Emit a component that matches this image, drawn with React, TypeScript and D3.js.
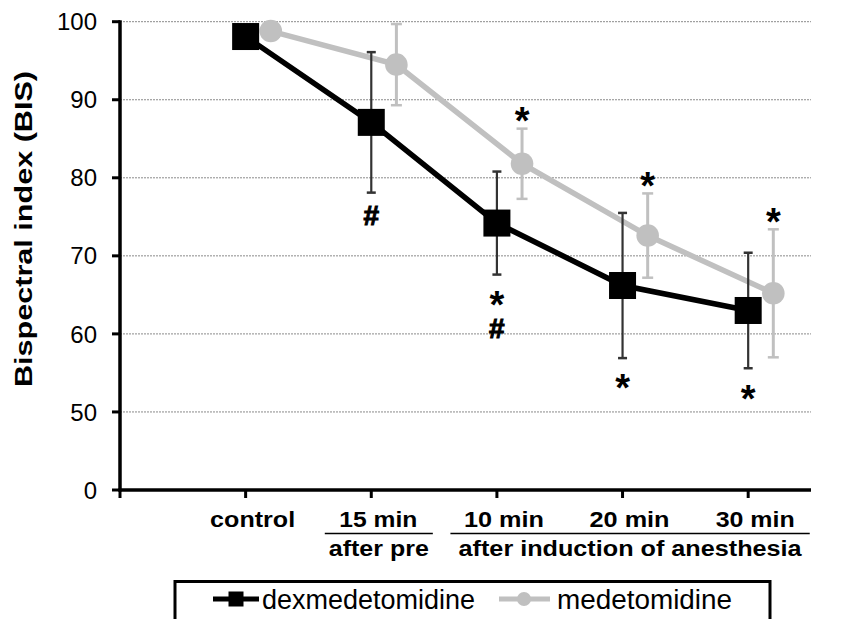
// BisChart.tsx
import * as d3 from "d3";
import { useEffect, useRef } from "react";

const width = 863;
const height = 619;

// values
const categories = ["control", "15 min", "10 min", "20 min", "30 min"];
const dexMean = [98.1, 87.1, 74.2, 66.2, 63.0];
const dexSD = [1.2, 9.0, 6.6, 9.3, 7.4];
const medMean = [98.8, 94.5, 81.8, 72.6, 65.2];
const medSD = [0.8, 5.2, 4.5, 5.4, 8.2];
const dexMarks = ["", "#", "*#", "*", "*"];
const medMarks = ["", "", "*", "*", "*"];
const yTickValues = [40, 50, 60, 70, 80, 90, 100];
const yTickLabels = ["0", "50", "60", "70", "80", "90", "100"];
const groups = [
  { label: "after pre", first: 1, last: 1 },
  { label: "after induction of anesthesia", first: 2, last: 4 },
];
const seriesNames = ["dexmedetomidine", "medetomidine"];

const FONT = "'Liberation Sans', Arial, Helvetica, sans-serif";
const BLACK = "#000";
const GREY = "#c0c0c0";

export default function App() {
  const svgRef = useRef<SVGSVGElement>(null);

  useEffect(() => {
    const svg = d3.select(svgRef.current);
    svg.selectAll("*").remove();

    const x = d3.scaleLinear().domain([0, 5.5]).range([120, 811]);
    const step = x(1) - x(0);
    const y = d3.scaleLinear().domain([40, 100]).range([490, 21.7]);
    const medShift = 0.2;

    // grid lines (dotted)
    svg.append("g")
      .selectAll("line")
      .data(yTickValues.filter(v => v > 40))
      .enter()
      .append("line")
      .attr("x1", x(0))
      .attr("x2", x(5.5))
      .attr("y1", d => y(d))
      .attr("y2", d => y(d))
      .attr("stroke", "#8a8a8a")
      .attr("stroke-width", 1)
      .attr("stroke-dasharray", "2,1");

    // y axis
    const yAxis = svg.append("g");
    yAxis.append("line")
      .attr("x1", x(0)).attr("x2", x(0))
      .attr("y1", y(100) - 1.5).attr("y2", y(40) + 1.5)
      .attr("stroke", BLACK).attr("stroke-width", 3.5);
    yAxis.selectAll(".tick")
      .data(yTickValues)
      .enter()
      .append("line")
      .attr("x1", x(0) - 8).attr("x2", x(0))
      .attr("y1", d => y(d)).attr("y2", d => y(d))
      .attr("stroke", BLACK).attr("stroke-width", 3);
    yAxis.selectAll("text")
      .data(yTickValues)
      .enter()
      .append("text")
      .attr("x", 97)
      .attr("y", d => y(d) + 8.6)
      .attr("text-anchor", "end")
      .style("font-family", FONT)
      .style("font-size", "24px")
      .text((d, i) => yTickLabels[i]);

    svg.append("text")
      .attr("transform", `translate(32, 229) rotate(-90)`)
      .attr("text-anchor", "middle")
      .attr("textLength", 316)
      .attr("lengthAdjust", "spacingAndGlyphs")
      .style("font-family", FONT)
      .style("font-size", "23px")
      .style("font-weight", "bold")
      .text("Bispectral index (BIS)");

    // x axis
    const xAxis = svg.append("g");
    xAxis.append("line")
      .attr("x1", x(0) - 1.5).attr("x2", x(5.5))
      .attr("y1", y(40)).attr("y2", y(40))
      .attr("stroke", BLACK).attr("stroke-width", 3.5);
    xAxis.selectAll(".tick")
      .data(d3.range(0, 6))
      .enter()
      .append("line")
      .attr("x1", d => x(d)).attr("x2", d => x(d))
      .attr("y1", y(40)).attr("y2", y(40) + 8)
      .attr("stroke", BLACK).attr("stroke-width", 3);

    const labelWidths = [85, 78, 80, 80, 79];
    xAxis.selectAll(".cat")
      .data(categories)
      .enter()
      .append("text")
      .attr("x", (d, i) => x(i + 1) + 7)
      .attr("y", 527)
      .attr("text-anchor", "middle")
      .attr("textLength", (d, i) => labelWidths[i])
      .attr("lengthAdjust", "spacingAndGlyphs")
      .style("font-family", FONT)
      .style("font-size", "22px")
      .style("font-weight", "bold")
      .text(d => d);

    const groupWidths = [100, 343];
    groups.forEach((g, gi) => {
      const x1 = x(g.first + 1) - 0.37 * step;
      const x2 = x(g.last + 1) + 0.49 * step;
      xAxis.append("line")
        .attr("x1", x1).attr("x2", x2)
        .attr("y1", 533.5).attr("y2", 533.5)
        .attr("stroke", BLACK).attr("stroke-width", 1.5);
      xAxis.append("text")
        .attr("x", (x1 + x2) / 2)
        .attr("y", 556)
        .attr("text-anchor", "middle")
        .attr("textLength", groupWidths[gi])
        .attr("lengthAdjust", "spacingAndGlyphs")
        .style("font-family", FONT)
        .style("font-size", "22px")
        .style("font-weight", "bold")
        .text(g.label);
    });

    // series
    const drawSeries = (mean: number[], sd: number[], shift: number, color: string, barColor: string, barWidth: number, cap: number) => {
      const g = svg.append("g");
      const line = d3.line<number>()
        .x((d, i) => x(i + 1 + shift))
        .y(d => y(d));
      g.append("path")
        .datum(mean)
        .attr("d", line)
        .attr("fill", "none")
        .attr("stroke", color)
        .attr("stroke-width", 5.5);
      const bars = g.selectAll(".err")
        .data(mean)
        .enter()
        .append("g");
      bars.append("line")
        .attr("x1", (d, i) => x(i + 1 + shift)).attr("x2", (d, i) => x(i + 1 + shift))
        .attr("y1", (d, i) => y(d + sd[i])).attr("y2", (d, i) => y(d - sd[i]))
        .attr("stroke", barColor).attr("stroke-width", barWidth);
      [1, -1].forEach(sign => {
        bars.append("line")
          .attr("x1", (d, i) => x(i + 1 + shift) - cap / 2)
          .attr("x2", (d, i) => x(i + 1 + shift) + cap / 2)
          .attr("y1", (d, i) => y(d + sign * sd[i]))
          .attr("y2", (d, i) => y(d + sign * sd[i]))
          .attr("stroke", barColor).attr("stroke-width", 2.5);
      });
      return g;
    };

    const medG = drawSeries(medMean, medSD, medShift, GREY, GREY, 3, 11);
    medG.selectAll("circle")
      .data(medMean)
      .enter()
      .append("circle")
      .attr("cx", (d, i) => x(i + 1 + medShift))
      .attr("cy", d => y(d))
      .attr("r", 11.3)
      .attr("fill", GREY);

    const dexG = drawSeries(dexMean, dexSD, 0, BLACK, "#333", 2.2, 9);
    dexG.selectAll("rect")
      .data(dexMean)
      .enter()
      .append("rect")
      .attr("x", (d, i) => x(i + 1) - 13.5)
      .attr("y", d => y(d) - 13.5)
      .attr("width", 27)
      .attr("height", 27)
      .attr("fill", BLACK);

    // significance marks: one text per point, stacked glyphs as tspans
    const glyphStyle = (ch: string) => ch === "*"
      ? { fs: 38, rise: 0.56 * 38, stroke: 0 }
      : { fs: 28, rise: 0.36 * 28, stroke: 1.1 };
    const markText = (cx: number, firstCenter: number, marks: string) => {
      if (!marks) return;
      const t = svg.append("text")
        .attr("text-anchor", "middle")
        .style("font-family", FONT)
        .style("font-weight", "bold");
      marks.split("").forEach((ch, k) => {
        const s = glyphStyle(ch);
        t.append("tspan")
          .attr("x", cx)
          .attr("y", firstCenter + k * 31 + s.rise)
          .style("font-size", `${s.fs}px`)
          .attr("stroke", s.stroke ? BLACK : "none")
          .attr("stroke-width", s.stroke)
          .text(ch);
      });
    };
    dexMarks.forEach((m, i) => {
      markText(x(i + 1), y(dexMean[i] - dexSD[i]) + 22, m);
    });
    medMarks.forEach((m, i) => {
      markText(x(i + 1 + medShift), y(medMean[i] + medSD[i]) - 16, m);
    });

    // legend
    const legend = svg.append("g");
    legend.append("path")
      .attr("d", `M175,${height + 5} V581.5 H770 V${height + 5}`)
      .attr("fill", "none")
      .attr("stroke", BLACK)
      .attr("stroke-width", 3);
    const ly = 599;
    legend.append("line")
      .attr("x1", 213).attr("x2", 259).attr("y1", ly).attr("y2", ly)
      .attr("stroke", BLACK).attr("stroke-width", 5);
    legend.append("rect")
      .attr("x", 236 - 7.5).attr("y", ly - 7.5).attr("width", 15).attr("height", 15)
      .attr("fill", BLACK);
    legend.append("line")
      .attr("x1", 499).attr("x2", 550).attr("y1", ly).attr("y2", ly)
      .attr("stroke", GREY).attr("stroke-width", 5);
    legend.append("circle")
      .attr("cx", 524).attr("cy", ly).attr("r", 7)
      .attr("fill", GREY);
    const legendX = [262, 557];
    const legendW = [213, 175];
    legend.selectAll(".ltext")
      .data(seriesNames)
      .enter()
      .append("text")
      .attr("x", (d, i) => legendX[i])
      .attr("y", 609)
      .attr("textLength", (d, i) => legendW[i])
      .attr("lengthAdjust", "spacingAndGlyphs")
      .style("font-family", FONT)
      .style("font-size", "27px")
      .text(d => d);
  }, []);

  return (
    <svg
      ref={svgRef}
      width={width}
      height={height}
      style={{ position: "absolute", left: 0, top: 0, background: "#fff" }}
    />
  );
}
